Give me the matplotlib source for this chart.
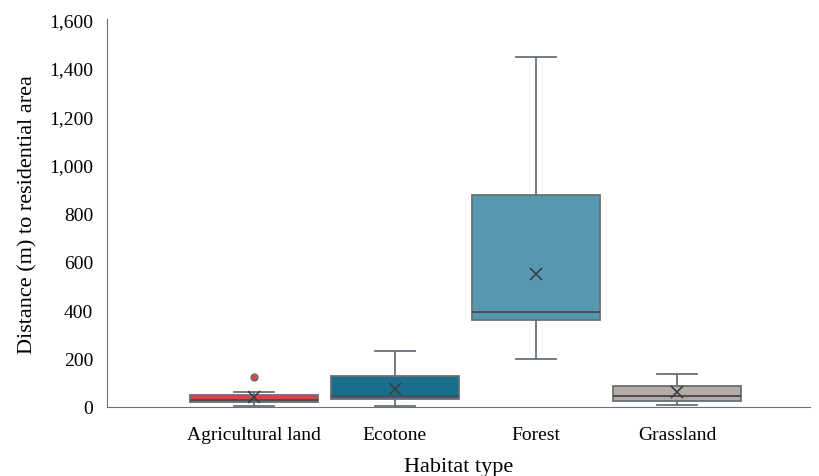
import matplotlib
matplotlib.use("Agg")
import matplotlib.pyplot as plt
from matplotlib.ticker import FuncFormatter

# values (distance in m)
habitats = ["Agricultural land", "Ecotone", "Forest", "Grassland"]
whisker_low = [5, 2, 198, 10]
q1 = [20, 33, 359, 23]
medians = [29, 47, 392, 44]
q3 = [50, 129, 874, 85]
whisker_high = [60, 231, 1443, 137]
means = [40, 74, 548, 60]
outliers = [[122], [], [], []]

box_colors = ["#d9453f", "#1b6d8c", "#5698b2", "#b6aca5"]
edge_color = "#6a7077"

plt.rcParams["font.family"] = ["Liberation Serif", "DejaVu Serif"]

fig = plt.figure(figsize=(8.2, 4.77), dpi=100)
ax = fig.add_axes([0.1305, 0.1447, 0.857, 0.813])

stats = []
for i, name in enumerate(habitats):
    stats.append(dict(label=name, whislo=whisker_low[i], q1=q1[i], med=medians[i],
                      q3=q3[i], whishi=whisker_high[i], mean=means[i], fliers=outliers[i]))

bp = ax.bxp(stats, positions=range(len(habitats)), widths=0.91, patch_artist=True,
            showmeans=True, showfliers=True,
            meanprops=dict(marker="x", markeredgecolor="#3a3f44", markersize=9, markeredgewidth=1.2),
            medianprops=dict(color="#4a5058", linewidth=1.5),
            whiskerprops=dict(color=edge_color, linewidth=1.3),
            capprops=dict(color=edge_color, linewidth=1.3),
            boxprops=dict(edgecolor=edge_color, linewidth=1.3),
            flierprops=dict(marker="o", markerfacecolor=box_colors[0], markeredgecolor=edge_color,
                            markersize=5))
for patch, c in zip(bp["boxes"], box_colors):
    patch.set_facecolor(c)
# caps about 0.3 of a slot wide
for cap in bp["caps"]:
    x0, x1 = cap.get_xdata()
    mid = (x0 + x1) / 2
    cap.set_xdata([mid - 0.14, mid + 0.14])

ax.set_xlim(-1.04, 3.94)
ax.set_ylim(0, 1600)
ax.set_yticks(range(0, 1601, 200))
ax.yaxis.set_major_formatter(FuncFormatter(lambda v, p: f"{int(v):,}"))
ax.set_xticks(range(len(habitats)))
ax.set_xticklabels(habitats)
ax.tick_params(axis="both", length=0, labelsize=14)
ax.tick_params(axis="x", pad=14)
ax.tick_params(axis="y", pad=10)

for s in ["top", "right"]:
    ax.spines[s].set_visible(False)
ax.spines["left"].set_color(edge_color)
ax.spines["bottom"].set_color(edge_color)

ax.set_xlabel("Habitat type", fontsize=16, labelpad=10)
ax.set_ylabel("Distance (m) to residential area", fontsize=16, labelpad=8)

fig.savefig("out.png", dpi=100)
